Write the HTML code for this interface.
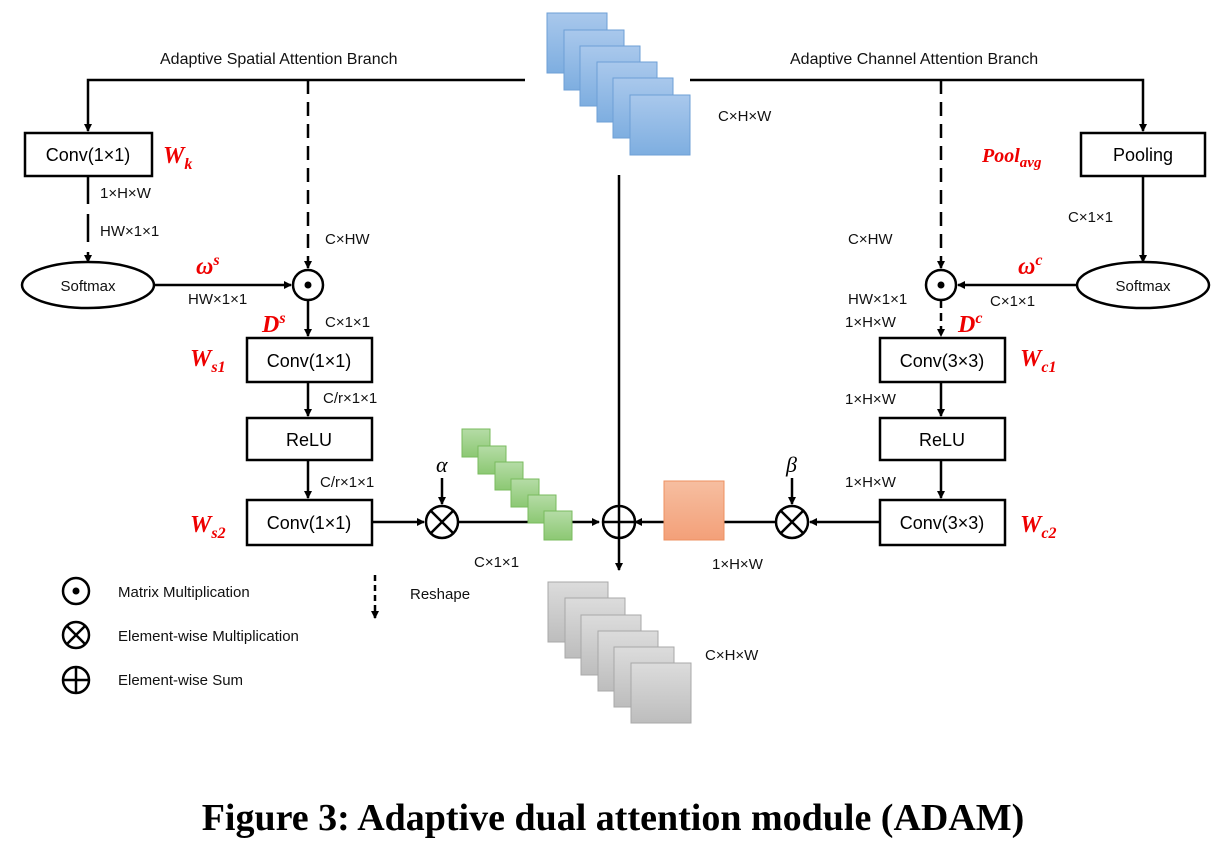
<!DOCTYPE html>
<html><head><meta charset="utf-8"><style>
body{margin:0;background:#fff;}
svg{display:block;}
.t{font-family:"Liberation Sans",sans-serif;font-size:15px;fill:#111;}
.b{font-family:"Liberation Sans",sans-serif;font-size:18px;fill:#000;}
.r{font-family:"Liberation Serif",serif;font-style:italic;font-weight:bold;fill:#e00;font-size:24px;}
</style></head><body>
<svg width="1226" height="842" viewBox="0 0 1226 842" xmlns="http://www.w3.org/2000/svg">
<defs>
<marker id="a" markerWidth="8" markerHeight="8" refX="7" refY="4" orient="auto" markerUnits="userSpaceOnUse"><path d="M0,0 L8,4 L0,8 z" fill="#000"/></marker>
<linearGradient id="gb" x1="0" y1="0" x2="0" y2="1"><stop offset="0" stop-color="#a9c8ec"/><stop offset="1" stop-color="#7eaee0"/></linearGradient>
<linearGradient id="gg" x1="0" y1="0" x2="0" y2="1"><stop offset="0" stop-color="#dcdcdc"/><stop offset="1" stop-color="#bdbdbd"/></linearGradient>
<linearGradient id="gn" x1="0" y1="0" x2="0" y2="1"><stop offset="0" stop-color="#b5dca6"/><stop offset="1" stop-color="#8cc873"/></linearGradient>
<linearGradient id="go" x1="0" y1="0" x2="0" y2="1"><stop offset="0" stop-color="#f6bea0"/><stop offset="1" stop-color="#f3a079"/></linearGradient>
</defs>
<g stroke="#000" stroke-width="2.5" fill="none">
<path d="M525,80 H88 V131" marker-end="url(#a)"/>
<path d="M690,80 H1143 V131" marker-end="url(#a)"/>
<path d="M308,80 V268" stroke-dasharray="14,8" marker-end="url(#a)"/>
<path d="M941,80 V268" stroke-dasharray="14,8" marker-end="url(#a)"/>
<path d="M88,176 V262" stroke-dasharray="28,10" marker-end="url(#a)"/>
<path d="M1143,176 V262" marker-end="url(#a)"/>
<path d="M154,285 H291" marker-end="url(#a)"/>
<path d="M1077,285 H958" marker-end="url(#a)"/>
<path d="M308,300 V336" marker-end="url(#a)"/>
<path d="M941,300 V336" stroke-dasharray="8,5" marker-end="url(#a)"/>
<path d="M308,382 V416" marker-end="url(#a)"/>
<path d="M308,460 V498" marker-end="url(#a)"/>
<path d="M941,382 V416" marker-end="url(#a)"/>
<path d="M941,460 V498" marker-end="url(#a)"/>
<path d="M372,522 H424" marker-end="url(#a)"/>
<path d="M458,522 H599" marker-end="url(#a)"/>
<path d="M664,522 H635" marker-end="url(#a)"/>
<path d="M724,522 H776"/>
<path d="M880,522 H810" marker-end="url(#a)"/>
<path d="M442,478 V504" marker-end="url(#a)"/>
<path d="M792,478 V504" marker-end="url(#a)"/>
<path d="M619,175 V570" marker-end="url(#a)"/>
<rect x="25" y="133" width="127" height="43" fill="#fff"/>
<rect x="1081" y="133" width="124" height="43" fill="#fff"/>
<rect x="247" y="338" width="125" height="44" fill="#fff"/>
<rect x="247" y="418" width="125" height="42" fill="#fff"/>
<rect x="247" y="500" width="125" height="45" fill="#fff"/>
<rect x="880" y="338" width="125" height="44" fill="#fff"/>
<rect x="880" y="418" width="125" height="42" fill="#fff"/>
<rect x="880" y="500" width="125" height="45" fill="#fff"/>
<ellipse cx="88" cy="285" rx="66" ry="23" fill="#fff"/>
<ellipse cx="1143" cy="285" rx="66" ry="23" fill="#fff"/>
</g>
<g stroke="#6d9fd6" stroke-width="1" fill="url(#gb)">
<rect x="547" y="13" width="60" height="60"/><rect x="564" y="30" width="60" height="60"/><rect x="580" y="46" width="60" height="60"/><rect x="597" y="62" width="60" height="60"/><rect x="613" y="78" width="60" height="60"/><rect x="630" y="95" width="60" height="60"/>
</g>
<g stroke="#a8a8a8" stroke-width="1" fill="url(#gg)">
<rect x="548" y="582" width="60" height="60"/><rect x="565" y="598" width="60" height="60"/><rect x="581" y="615" width="60" height="60"/><rect x="598" y="631" width="60" height="60"/><rect x="614" y="647" width="60" height="60"/><rect x="631" y="663" width="60" height="60"/>
</g>
<g stroke="#79bb5e" stroke-width="1" fill="url(#gn)">
<rect x="462" y="429" width="28" height="28"/><rect x="478" y="446" width="28" height="28"/><rect x="495" y="462" width="28" height="28"/><rect x="511" y="479" width="28" height="28"/><rect x="528" y="495" width="28" height="28"/><rect x="544" y="511" width="28" height="29"/>
</g>
<rect x="664" y="481" width="60" height="59" fill="url(#go)" stroke="#ee9060" stroke-width="1"/>
<g stroke="#000" stroke-width="2.5" fill="#fff">
<circle cx="308" cy="285" r="15"/><circle cx="941" cy="285" r="15"/>
<circle cx="442" cy="522" r="16"/><circle cx="792" cy="522" r="16"/>
<circle cx="619" cy="522" r="16"/>
<circle cx="76" cy="591" r="13"/><circle cx="76" cy="635" r="13"/><circle cx="76" cy="680" r="13"/>
<path d="M431,511 L453,533 M453,511 L431,533 M781,511 L803,533 M803,511 L781,533 M603,522 H635 M619,506 V538 M67,626 L85,644 M85,626 L67,644 M63,680 H89 M76,667 V693"/>
</g>
<circle cx="308" cy="285" r="3.5"/><circle cx="941" cy="285" r="3.5"/><circle cx="76" cy="591" r="3.5"/>
<path d="M375,575 V618" stroke="#000" stroke-width="2.5" stroke-dasharray="6,4" marker-end="url(#a)"/>
<text class="t" x="160" y="64" style="font-size:16px">Adaptive Spatial Attention Branch</text>
<text class="t" x="790" y="64" style="font-size:16px">Adaptive Channel Attention Branch</text>
<text class="b" x="88" y="161" text-anchor="middle">Conv(1×1)</text>
<text class="b" x="1143" y="161" text-anchor="middle">Pooling</text>
<text class="b" x="309" y="367" text-anchor="middle">Conv(1×1)</text>
<text class="b" x="309" y="446" text-anchor="middle">ReLU</text>
<text class="b" x="309" y="529" text-anchor="middle">Conv(1×1)</text>
<text class="b" x="942" y="367" text-anchor="middle">Conv(3×3)</text>
<text class="b" x="942" y="446" text-anchor="middle">ReLU</text>
<text class="b" x="942" y="529" text-anchor="middle">Conv(3×3)</text>
<text class="t" x="88" y="291" text-anchor="middle">Softmax</text>
<text class="t" x="1143" y="291" text-anchor="middle">Softmax</text>
<text class="t" x="100" y="198">1×H×W</text>
<text class="t" x="100" y="236">HW×1×1</text>
<text class="t" x="325" y="244">C×HW</text>
<text class="t" x="188" y="304">HW×1×1</text>
<text class="t" x="325" y="327">C×1×1</text>
<text class="t" x="323" y="403">C/r×1×1</text>
<text class="t" x="320" y="487">C/r×1×1</text>
<text class="t" x="474" y="567">C×1×1</text>
<text class="t" x="712" y="569">1×H×W</text>
<text class="t" x="718" y="121">C×H×W</text>
<text class="t" x="705" y="660">C×H×W</text>
<text class="t" x="848" y="244">C×HW</text>
<text class="t" x="1068" y="222">C×1×1</text>
<text class="t" x="848" y="304">HW×1×1</text>
<text class="t" x="845" y="327">1×H×W</text>
<text class="t" x="990" y="306">C×1×1</text>
<text class="t" x="845" y="404">1×H×W</text>
<text class="t" x="845" y="487">1×H×W</text>
<text class="t" x="410" y="599">Reshape</text>
<text class="t" x="118" y="597">Matrix Multiplication</text>
<text class="t" x="118" y="641">Element-wise Multiplication</text>
<text class="t" x="118" y="685">Element-wise Sum</text>
<text x="436" y="472" style="font-family:'Liberation Serif',serif;font-style:italic;font-size:22px">α</text>
<text x="786" y="472" style="font-family:'Liberation Serif',serif;font-style:italic;font-size:22px">β</text>
<text class="r" x="163" y="163">W<tspan dy="6" font-size="16">k</tspan></text>
<text class="r" x="190" y="366">W<tspan dy="6" font-size="16">s1</tspan></text>
<text class="r" x="190" y="532">W<tspan dy="6" font-size="16">s2</tspan></text>
<text class="r" x="1020" y="366">W<tspan dy="6" font-size="16">c1</tspan></text>
<text class="r" x="1020" y="532">W<tspan dy="6" font-size="16">c2</tspan></text>
<text class="r" x="982" y="162" style="font-size:20px">Pool<tspan dy="5" font-size="15">avg</tspan></text>
<text class="r" x="196" y="274">ω<tspan dy="-9" font-size="16">s</tspan></text>
<text class="r" x="1018" y="274">ω<tspan dy="-9" font-size="16">c</tspan></text>
<text class="r" x="262" y="332">D<tspan dy="-9" font-size="16">s</tspan></text>
<text class="r" x="958" y="332">D<tspan dy="-9" font-size="16">c</tspan></text>
<text x="613" y="830" text-anchor="middle" style="font-family:'Liberation Serif',serif;font-weight:bold;font-size:38px">Figure 3: Adaptive dual attention module (ADAM)</text>
</svg>
</body></html>
